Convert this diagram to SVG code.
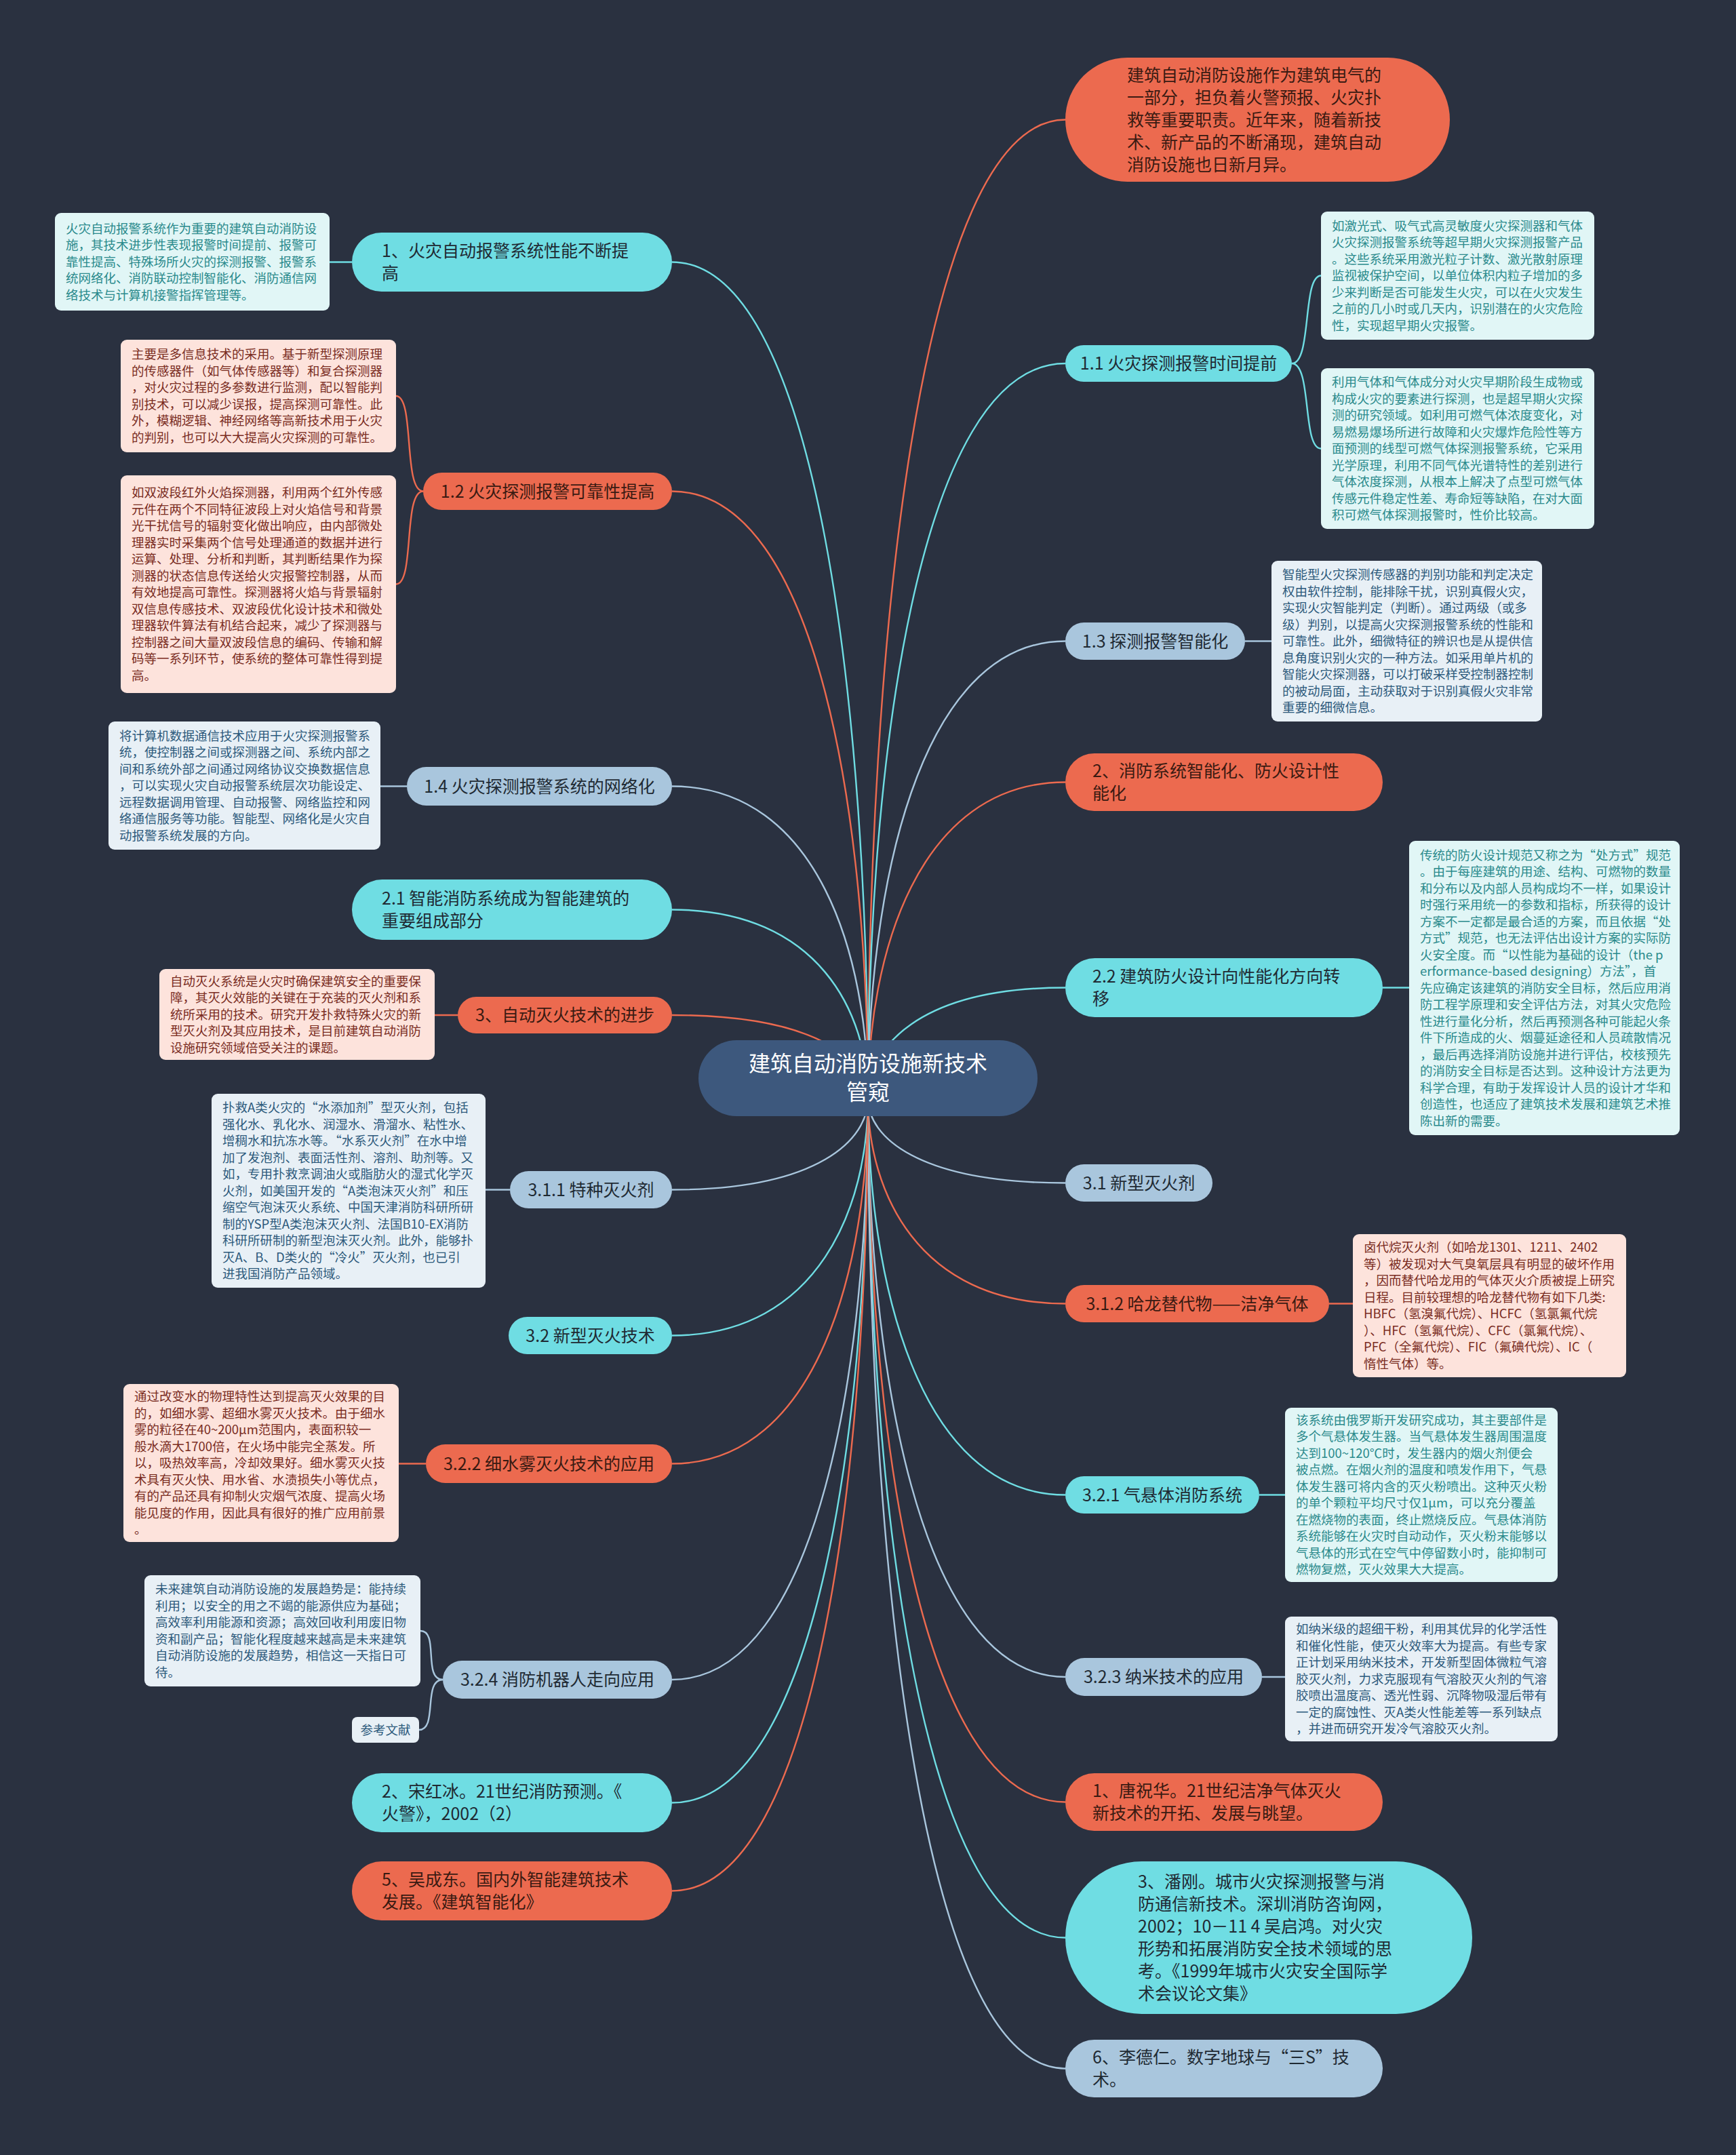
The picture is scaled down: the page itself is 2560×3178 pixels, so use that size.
<svg xmlns="http://www.w3.org/2000/svg" width="2560" height="3178" viewBox="0 0 2560 3178">
<style>
text{font-family:"Noto Sans CJK SC","Noto Sans",sans-serif}
.c{fill:none;stroke-width:2.4}
.co{stroke:#ec6a4f}.cc{stroke:#6fdde3}.cb{stroke:#a9c6dd}
.no{fill:#ec6a4f}.nc{fill:#6fdde3}.nb{fill:#a9c6dd}
.t{font-size:25px;fill:#1f2a33}
.to{font-size:25px;fill:#3a1a12}
.pc{fill:#e1f6f6}.pp{fill:#fde3dc}.pb{fill:#e8f0f6}
.tc{font-size:18.5px;fill:#2a8a8c}.tp{font-size:18.5px;fill:#7a2c1f}.tb{font-size:18.5px;fill:#2d5a7c}
</style>
<rect width="2560" height="3178" fill="#2a3140"/>
<g id="connectors">
<path class="c co" d="M1280 1620 C1280 970 1353 176.5 1571 176.5"/>
<path class="c cc" d="M1280 1620 C1280 1132 1353 536 1571 536"/>
<path class="c cb" d="M1280 1620 C1280 1316 1353 945.5 1571 945.5"/>
<path class="c co" d="M1280 1620 C1280 1410 1353 1153.5 1571 1153.5"/>
<path class="c cc" d="M1280 1620 C1280 1546 1353 1456.5 1571 1456.5"/>
<path class="c cb" d="M1280 1620 C1280 1676 1353 1744.5 1571 1744.5"/>
<path class="c co" d="M1280 1620 C1280 1756 1353 1922.5 1571 1922.5"/>
<path class="c cc" d="M1280 1620 C1280 1883 1353 2204.5 1571 2204.5"/>
<path class="c cb" d="M1280 1620 C1280 2004 1353 2473 1571 2473"/>
<path class="c co" d="M1280 1620 C1280 2087 1353 2657.5 1571 2657.5"/>
<path class="c cc" d="M1280 1620 C1280 2177 1353 2857.5 1571 2857.5"/>
<path class="c cb" d="M1280 1620 C1280 2264 1353 3050.5 1571 3050.5"/>
<path class="c cc" d="M1280 1620 C1280 1065 1208 386.5 991 386.5"/>
<path class="c co" d="M1280 1620 C1280 1217 1208 724.5 991 724.5"/>
<path class="c cb" d="M1280 1620 C1280 1413 1208 1159.5 991 1159.5"/>
<path class="c cc" d="M1280 1620 C1280 1495 1208 1341.5 991 1341.5"/>
<path class="c co" d="M1280 1620 C1280 1565 1208 1497 991 1497"/>
<path class="c cb" d="M1280 1620 C1280 1680 1208 1754.5 991 1754.5"/>
<path class="c cc" d="M1280 1620 C1280 1777 1208 1969.5 991 1969.5"/>
<path class="c co" d="M1280 1620 C1280 1862 1208 2158.5 991 2158.5"/>
<path class="c cb" d="M1280 1620 C1280 2006 1208 2477 991 2477"/>
<path class="c cc" d="M1280 1620 C1280 2087 1208 2658.5 991 2658.5"/>
<path class="c co" d="M1280 1620 C1280 2146 1208 2788.5 991 2788.5"/>
<path class="c cc" d="M519 386.5 L486 386.5"/>
<path class="c cc" d="M1905 536 C1935 536 1920 406.5 1948 406.5"/>
<path class="c cc" d="M1905 536 C1935 536 1920 661.5 1948 661.5"/>
<path class="c co" d="M624 724.5 C594 724.5 612 584 584 584"/>
<path class="c co" d="M624 724.5 C594 724.5 612 861.5 584 861.5"/>
<path class="c cb" d="M1836 945.5 L1875 945.5"/>
<path class="c cb" d="M600 1159.5 L561 1159.5"/>
<path class="c cc" d="M2039 1456.5 L2078 1456.5"/>
<path class="c co" d="M675 1497 L641 1497"/>
<path class="c cb" d="M752 1754.5 L716 1754.5"/>
<path class="c co" d="M1960 1922.5 L1995 1922.5"/>
<path class="c co" d="M628 2158.5 L588 2158.5"/>
<path class="c cc" d="M1857 2204.5 L1895 2204.5"/>
<path class="c cb" d="M1861 2473 L1895 2473"/>
<path class="c cb" d="M653 2477 C623 2477 648 2405 620 2405"/>
<path class="c cb" d="M653 2477 C623 2477 646 2551 618 2551"/>
</g>
<g id="root">
<rect x="1030" y="1534" width="500" height="112" rx="56" fill="#3d587d"/>
<text x="1280" y="1580" font-size="32" fill="#ffffff" text-anchor="middle"><tspan x="1280">建筑自动消防设施新技术</tspan><tspan x="1280" dy="42">管窥</tspan></text>
</g>
<g id="intro">
<rect class="no" x="1571" y="85" width="567" height="183" rx="91.5"/>
<text class="to" x="1662" y="119.5"><tspan x="1662">建筑自动消防设施作为建筑电气的</tspan><tspan x="1662" dy="33">一部分，担负着火警预报、火灾扑</tspan><tspan x="1662" dy="33">救等重要职责。近年来，随着新技</tspan><tspan x="1662" dy="33">术、新产品的不断涌现，建筑自动</tspan><tspan x="1662" dy="33">消防设施也日新月异。</tspan></text>
</g>
<g id="n1-1">
<rect class="nc" x="1571" y="509" width="334" height="54" rx="27"/>
<text class="t" x="1738" y="545" text-anchor="middle">1.1 火灾探测报警时间提前</text>
</g>
<g id="n1-3">
<rect class="nb" x="1571" y="918" width="265" height="55" rx="27.5"/>
<text class="t" x="1703.5" y="954.5" text-anchor="middle">1.3 探测报警智能化</text>
</g>
<g id="n2">
<rect class="no" x="1571" y="1111" width="468" height="85" rx="42.5"/>
<text class="to" x="1611" y="1146"><tspan x="1611">2、消防系统智能化、防火设计性</tspan><tspan x="1611" dy="33">能化</tspan></text>
</g>
<g id="n2-2">
<rect class="nc" x="1571" y="1413" width="468" height="87" rx="43.5"/>
<text class="t" x="1611" y="1449"><tspan x="1611">2.2 建筑防火设计向性能化方向转</tspan><tspan x="1611" dy="33">移</tspan></text>
</g>
<g id="n3-1">
<rect class="nb" x="1571" y="1717" width="217" height="55" rx="27.5"/>
<text class="t" x="1679.5" y="1753.5" text-anchor="middle">3.1 新型灭火剂</text>
</g>
<g id="n3-1-2">
<rect class="no" x="1571" y="1895" width="389" height="55" rx="27.5"/>
<text class="to" x="1765.5" y="1931.5" text-anchor="middle">3.1.2 哈龙替代物——洁净气体</text>
</g>
<g id="n3-2-1">
<rect class="nc" x="1571" y="2177" width="286" height="55" rx="27.5"/>
<text class="t" x="1714" y="2213.5" text-anchor="middle">3.2.1 气悬体消防系统</text>
</g>
<g id="n3-2-3">
<rect class="nb" x="1571" y="2445" width="290" height="56" rx="28"/>
<text class="t" x="1716" y="2482" text-anchor="middle">3.2.3 纳米技术的应用</text>
</g>
<g id="ref1">
<rect class="no" x="1571" y="2615" width="468" height="85" rx="42.5"/>
<text class="to" x="1611" y="2650"><tspan x="1611">1、唐祝华。21世纪洁净气体灭火</tspan><tspan x="1611" dy="33">新技术的开拓、发展与眺望。</tspan></text>
</g>
<g id="ref3">
<rect class="nc" x="1571" y="2745" width="600" height="225" rx="112.5"/>
<text class="t" x="1678" y="2784"><tspan x="1678">3、潘刚。城市火灾探测报警与消</tspan><tspan x="1678" dy="33">防通信新技术。深圳消防咨询网，</tspan><tspan x="1678" dy="33">2002；10－11 4 吴启鸿。对火灾</tspan><tspan x="1678" dy="33">形势和拓展消防安全技术领域的思</tspan><tspan x="1678" dy="33">考。《1999年城市火灾安全国际学</tspan><tspan x="1678" dy="33">术会议论文集》</tspan></text>
</g>
<g id="ref6">
<rect class="nb" x="1571" y="3008" width="468" height="85" rx="42.5"/>
<text class="t" x="1611" y="3043"><tspan x="1611">6、李德仁。数字地球与“三S”技</tspan><tspan x="1611" dy="33">术。</tspan></text>
</g>
<g id="n1">
<rect class="nc" x="519" y="343" width="472" height="87" rx="43.5"/>
<text class="t" x="563" y="379"><tspan x="563">1、火灾自动报警系统性能不断提</tspan><tspan x="563" dy="33">高</tspan></text>
</g>
<g id="n1-2">
<rect class="no" x="624" y="697" width="367" height="55" rx="27.5"/>
<text class="to" x="807.5" y="733.5" text-anchor="middle">1.2 火灾探测报警可靠性提高</text>
</g>
<g id="n1-4">
<rect class="nb" x="600" y="1131" width="391" height="57" rx="28.5"/>
<text class="t" x="795.5" y="1168.5" text-anchor="middle">1.4 火灾探测报警系统的网络化</text>
</g>
<g id="n2-1">
<rect class="nc" x="519" y="1297" width="472" height="89" rx="44.5"/>
<text class="t" x="563" y="1334"><tspan x="563">2.1 智能消防系统成为智能建筑的</tspan><tspan x="563" dy="33">重要组成部分</tspan></text>
</g>
<g id="n3">
<rect class="no" x="675" y="1470" width="316" height="54" rx="27"/>
<text class="to" x="833" y="1506" text-anchor="middle">3、自动灭火技术的进步</text>
</g>
<g id="n3-1-1">
<rect class="nb" x="752" y="1727" width="239" height="55" rx="27.5"/>
<text class="t" x="871.5" y="1763.5" text-anchor="middle">3.1.1 特种灭火剂</text>
</g>
<g id="n3-2">
<rect class="nc" x="750" y="1942" width="241" height="55" rx="27.5"/>
<text class="t" x="870.5" y="1978.5" text-anchor="middle">3.2 新型灭火技术</text>
</g>
<g id="n3-2-2">
<rect class="no" x="628" y="2130" width="363" height="57" rx="28.5"/>
<text class="to" x="809.5" y="2167.5" text-anchor="middle">3.2.2 细水雾灭火技术的应用</text>
</g>
<g id="n3-2-4">
<rect class="nb" x="653" y="2449" width="338" height="56" rx="28"/>
<text class="t" x="822" y="2486" text-anchor="middle">3.2.4 消防机器人走向应用</text>
</g>
<g id="ref2">
<rect class="nc" x="519" y="2615" width="472" height="87" rx="43.5"/>
<text class="t" x="563" y="2651"><tspan x="563">2、宋红冰。21世纪消防预测。《</tspan><tspan x="563" dy="33">火警》，2002（2）</tspan></text>
</g>
<g id="ref5">
<rect class="no" x="519" y="2745" width="472" height="87" rx="43.5"/>
<text class="to" x="563" y="2781"><tspan x="563">5、吴成东。国内外智能建筑技术</tspan><tspan x="563" dy="33">发展。《建筑智能化》</tspan></text>
</g>
<g id="note-1">
<rect class="pc" x="81" y="314" width="405" height="144" rx="9"/>
<text class="tc" x="97" y="343.5"><tspan x="97">火灾自动报警系统作为重要的建筑自动消防设</tspan><tspan x="97" dy="24.5">施，其技术进步性表现报警时间提前、报警可</tspan><tspan x="97" dy="24.5">靠性提高、特殊场所火灾的探测报警、报警系</tspan><tspan x="97" dy="24.5">统网络化、消防联动控制智能化、消防通信网</tspan><tspan x="97" dy="24.5">络技术与计算机接警指挥管理等。</tspan></text>
</g>
<g id="note-1-1a">
<rect class="pc" x="1948" y="312" width="403" height="189" rx="9"/>
<text class="tc" x="1964" y="339.5"><tspan x="1964">如激光式、吸气式高灵敏度火灾探测器和气体</tspan><tspan x="1964" dy="24.5">火灾探测报警系统等超早期火灾探测报警产品</tspan><tspan x="1964" dy="24.5">。这些系统采用激光粒子计数、激光散射原理</tspan><tspan x="1964" dy="24.5">监视被保护空间，以单位体积内粒子增加的多</tspan><tspan x="1964" dy="24.5">少来判断是否可能发生火灾，可以在火灾发生</tspan><tspan x="1964" dy="24.5">之前的几小时或几天内，识别潜在的火灾危险</tspan><tspan x="1964" dy="24.5">性，实现超早期火灾报警。</tspan></text>
</g>
<g id="note-1-1b">
<rect class="pc" x="1948" y="543" width="403" height="237" rx="9"/>
<text class="tc" x="1964" y="570"><tspan x="1964">利用气体和气体成分对火灾早期阶段生成物或</tspan><tspan x="1964" dy="24.5">构成火灾的要素进行探测，也是超早期火灾探</tspan><tspan x="1964" dy="24.5">测的研究领域。如利用可燃气体浓度变化，对</tspan><tspan x="1964" dy="24.5">易燃易爆场所进行故障和火灾爆炸危险性等方</tspan><tspan x="1964" dy="24.5">面预测的线型可燃气体探测报警系统，它采用</tspan><tspan x="1964" dy="24.5">光学原理，利用不同气体光谱特性的差别进行</tspan><tspan x="1964" dy="24.5">气体浓度探测，从根本上解决了点型可燃气体</tspan><tspan x="1964" dy="24.5">传感元件稳定性差、寿命短等缺陷，在对大面</tspan><tspan x="1964" dy="24.5">积可燃气体探测报警时，性价比较高。</tspan></text>
</g>
<g id="note-1-2a">
<rect class="pp" x="178" y="501" width="406" height="166" rx="9"/>
<text class="tp" x="194" y="529.25"><tspan x="194">主要是多信息技术的采用。基于新型探测原理</tspan><tspan x="194" dy="24.5">的传感器件（如气体传感器等）和复合探测器</tspan><tspan x="194" dy="24.5">，对火灾过程的多参数进行监测，配以智能判</tspan><tspan x="194" dy="24.5">别技术，可以减少误报，提高探测可靠性。此</tspan><tspan x="194" dy="24.5">外，模糊逻辑、神经网络等高新技术用于火灾</tspan><tspan x="194" dy="24.5">的判别，也可以大大提高火灾探测的可靠性。</tspan></text>
</g>
<g id="note-1-2b">
<rect class="pp" x="178" y="701" width="406" height="321" rx="9"/>
<text class="tp" x="194" y="733.25"><tspan x="194">如双波段红外火焰探测器，利用两个红外传感</tspan><tspan x="194" dy="24.5">元件在两个不同特征波段上对火焰信号和背景</tspan><tspan x="194" dy="24.5">光干扰信号的辐射变化做出响应，由内部微处</tspan><tspan x="194" dy="24.5">理器实时采集两个信号处理通道的数据并进行</tspan><tspan x="194" dy="24.5">运算、处理、分析和判断，其判断结果作为探</tspan><tspan x="194" dy="24.5">测器的状态信息传送给火灾报警控制器，从而</tspan><tspan x="194" dy="24.5">有效地提高可靠性。探测器将火焰与背景辐射</tspan><tspan x="194" dy="24.5">双信息传感技术、双波段优化设计技术和微处</tspan><tspan x="194" dy="24.5">理器软件算法有机结合起来，减少了探测器与</tspan><tspan x="194" dy="24.5">控制器之间大量双波段信息的编码、传输和解</tspan><tspan x="194" dy="24.5">码等一系列环节，使系统的整体可靠性得到提</tspan><tspan x="194" dy="24.5">高。</tspan></text>
</g>
<g id="note-1-3">
<rect class="pb" x="1875" y="827" width="399" height="237" rx="9"/>
<text class="tb" x="1891" y="854"><tspan x="1891">智能型火灾探测传感器的判别功能和判定决定</tspan><tspan x="1891" dy="24.5">权由软件控制，能排除干扰，识别真假火灾，</tspan><tspan x="1891" dy="24.5">实现火灾智能判定（判断）。通过两级（或多</tspan><tspan x="1891" dy="24.5">级）判别，以提高火灾探测报警系统的性能和</tspan><tspan x="1891" dy="24.5">可靠性。此外，细微特征的辨识也是从提供信</tspan><tspan x="1891" dy="24.5">息角度识别火灾的一种方法。如采用单片机的</tspan><tspan x="1891" dy="24.5">智能火灾探测器，可以打破采样受控制器控制</tspan><tspan x="1891" dy="24.5">的被动局面，主动获取对于识别真假火灾非常</tspan><tspan x="1891" dy="24.5">重要的细微信息。</tspan></text>
</g>
<g id="note-1-4">
<rect class="pb" x="160" y="1064" width="401" height="189" rx="9"/>
<text class="tb" x="176" y="1091.5"><tspan x="176">将计算机数据通信技术应用于火灾探测报警系</tspan><tspan x="176" dy="24.5">统，使控制器之间或探测器之间、系统内部之</tspan><tspan x="176" dy="24.5">间和系统外部之间通过网络协议交换数据信息</tspan><tspan x="176" dy="24.5">，可以实现火灾自动报警系统层次功能设定、</tspan><tspan x="176" dy="24.5">远程数据调用管理、自动报警、网络监控和网</tspan><tspan x="176" dy="24.5">络通信服务等功能。智能型、网络化是火灾自</tspan><tspan x="176" dy="24.5">动报警系统发展的方向。</tspan></text>
</g>
<g id="note-2-2">
<rect class="pc" x="2078" y="1240" width="399" height="434" rx="9"/>
<text class="tc" x="2094" y="1267.5"><tspan x="2094">传统的防火设计规范又称之为“处方式”规范</tspan><tspan x="2094" dy="24.5">。由于每座建筑的用途、结构、可燃物的数量</tspan><tspan x="2094" dy="24.5">和分布以及内部人员构成均不一样，如果设计</tspan><tspan x="2094" dy="24.5">时强行采用统一的参数和指标，所获得的设计</tspan><tspan x="2094" dy="24.5">方案不一定都是最合适的方案，而且依据“处</tspan><tspan x="2094" dy="24.5">方式”规范，也无法评估出设计方案的实际防</tspan><tspan x="2094" dy="24.5">火安全度。而“以性能为基础的设计（the p</tspan><tspan x="2094" dy="24.5">erformance-based designing）方法”，首</tspan><tspan x="2094" dy="24.5">先应确定该建筑的消防安全目标，然后应用消</tspan><tspan x="2094" dy="24.5">防工程学原理和安全评估方法，对其火灾危险</tspan><tspan x="2094" dy="24.5">性进行量化分析，然后再预测各种可能起火条</tspan><tspan x="2094" dy="24.5">件下所造成的火、烟蔓延途径和人员疏散情况</tspan><tspan x="2094" dy="24.5">，最后再选择消防设施并进行评估，校核预先</tspan><tspan x="2094" dy="24.5">的消防安全目标是否达到。这种设计方法更为</tspan><tspan x="2094" dy="24.5">科学合理，有助于发挥设计人员的设计才华和</tspan><tspan x="2094" dy="24.5">创造性，也适应了建筑技术发展和建筑艺术推</tspan><tspan x="2094" dy="24.5">陈出新的需要。</tspan></text>
</g>
<g id="note-3">
<rect class="pp" x="235" y="1429" width="406" height="134" rx="9"/>
<text class="tp" x="251" y="1453.5"><tspan x="251">自动灭火系统是火灾时确保建筑安全的重要保</tspan><tspan x="251" dy="24.5">障，其灭火效能的关键在于充装的灭火剂和系</tspan><tspan x="251" dy="24.5">统所采用的技术。研究开发扑救特殊火灾的新</tspan><tspan x="251" dy="24.5">型灭火剂及其应用技术，是目前建筑自动消防</tspan><tspan x="251" dy="24.5">设施研究领域倍受关注的课题。</tspan></text>
</g>
<g id="note-3-1-1">
<rect class="pb" x="312" y="1613" width="404" height="286" rx="9"/>
<text class="tb" x="328" y="1640"><tspan x="328">扑救A类火灾的“水添加剂”型灭火剂，包括</tspan><tspan x="328" dy="24.5">强化水、乳化水、润湿水、滑溜水、粘性水、</tspan><tspan x="328" dy="24.5">增稠水和抗冻水等。“水系灭火剂”在水中增</tspan><tspan x="328" dy="24.5">加了发泡剂、表面活性剂、溶剂、助剂等。又</tspan><tspan x="328" dy="24.5">如，专用扑救烹调油火或脂肪火的湿式化学灭</tspan><tspan x="328" dy="24.5">火剂，如美国开发的“A类泡沫灭火剂”和压</tspan><tspan x="328" dy="24.5">缩空气泡沫灭火系统、中国天津消防科研所研</tspan><tspan x="328" dy="24.5">制的YSP型A类泡沫灭火剂、法国B10-EX消防</tspan><tspan x="328" dy="24.5">科研所研制的新型泡沫灭火剂。此外，能够扑</tspan><tspan x="328" dy="24.5">灭A、B、D类火的“冷火”灭火剂，也已引</tspan><tspan x="328" dy="24.5">进我国消防产品领域。</tspan></text>
</g>
<g id="note-3-1-2">
<rect class="pp" x="1995" y="1820" width="403" height="211" rx="9"/>
<text class="tp" x="2011" y="1846.25"><tspan x="2011">卤代烷灭火剂（如哈龙1301、1211、2402</tspan><tspan x="2011" dy="24.5">等）被发现对大气臭氧层具有明显的破坏作用</tspan><tspan x="2011" dy="24.5">，因而替代哈龙用的气体灭火介质被提上研究</tspan><tspan x="2011" dy="24.5">日程。目前较理想的哈龙替代物有如下几类:</tspan><tspan x="2011" dy="24.5">HBFC（氢溴氟代烷）、HCFC（氢氯氟代烷</tspan><tspan x="2011" dy="24.5">）、HFC（氢氟代烷）、CFC（氯氟代烷）、</tspan><tspan x="2011" dy="24.5">PFC（全氟代烷）、FIC（氟碘代烷）、IC（</tspan><tspan x="2011" dy="24.5">惰性气体）等。</tspan></text>
</g>
<g id="note-3-2-2">
<rect class="pp" x="182" y="2041" width="406" height="233" rx="9"/>
<text class="tp" x="198" y="2066"><tspan x="198">通过改变水的物理特性达到提高灭火效果的目</tspan><tspan x="198" dy="24.5">的，如细水雾、超细水雾灭火技术。由于细水</tspan><tspan x="198" dy="24.5">雾的粒径在40~200μm范围内，表面积较一</tspan><tspan x="198" dy="24.5">般水滴大1700倍，在火场中能完全蒸发。所</tspan><tspan x="198" dy="24.5">以，吸热效率高，冷却效果好。细水雾灭火技</tspan><tspan x="198" dy="24.5">术具有灭火快、用水省、水渍损失小等优点，</tspan><tspan x="198" dy="24.5">有的产品还具有抑制火灾烟气浓度、提高火场</tspan><tspan x="198" dy="24.5">能见度的作用，因此具有很好的推广应用前景</tspan><tspan x="198" dy="24.5">。</tspan></text>
</g>
<g id="note-3-2-1">
<rect class="pc" x="1895" y="2076" width="402" height="257" rx="9"/>
<text class="tc" x="1911" y="2100.75"><tspan x="1911">该系统由俄罗斯开发研究成功，其主要部件是</tspan><tspan x="1911" dy="24.5">多个气悬体发生器。当气悬体发生器周围温度</tspan><tspan x="1911" dy="24.5">达到100~120℃时，发生器内的烟火剂便会</tspan><tspan x="1911" dy="24.5">被点燃。在烟火剂的温度和喷发作用下，气悬</tspan><tspan x="1911" dy="24.5">体发生器可将内含的灭火粉喷出。这种灭火粉</tspan><tspan x="1911" dy="24.5">的单个颗粒平均尺寸仅1μm，可以充分覆盖</tspan><tspan x="1911" dy="24.5">在燃烧物的表面，终止燃烧反应。气悬体消防</tspan><tspan x="1911" dy="24.5">系统能够在火灾时自动动作，灭火粉末能够以</tspan><tspan x="1911" dy="24.5">气悬体的形式在空气中停留数小时，能抑制可</tspan><tspan x="1911" dy="24.5">燃物复燃，灭火效果大大提高。</tspan></text>
</g>
<g id="note-3-2-3">
<rect class="pb" x="1895" y="2384" width="402" height="184" rx="9"/>
<text class="tb" x="1911" y="2409"><tspan x="1911">如纳米级的超细干粉，利用其优异的化学活性</tspan><tspan x="1911" dy="24.5">和催化性能，使灭火效率大为提高。有些专家</tspan><tspan x="1911" dy="24.5">正计划采用纳米技术，开发新型固体微粒气溶</tspan><tspan x="1911" dy="24.5">胶灭火剂，力求克服现有气溶胶灭火剂的气溶</tspan><tspan x="1911" dy="24.5">胶喷出温度高、透光性弱、沉降物吸湿后带有</tspan><tspan x="1911" dy="24.5">一定的腐蚀性、灭A类火性能差等一系列缺点</tspan><tspan x="1911" dy="24.5">，并进而研究开发冷气溶胶灭火剂。</tspan></text>
</g>
<g id="note-3-2-4">
<rect class="pb" x="213" y="2323" width="407" height="164" rx="9"/>
<text class="tb" x="229" y="2350.25"><tspan x="229">未来建筑自动消防设施的发展趋势是：能持续</tspan><tspan x="229" dy="24.5">利用；以安全的用之不竭的能源供应为基础；</tspan><tspan x="229" dy="24.5">高效率利用能源和资源；高效回收利用废旧物</tspan><tspan x="229" dy="24.5">资和副产品；智能化程度越来越高是未来建筑</tspan><tspan x="229" dy="24.5">自动消防设施的发展趋势，相信这一天指日可</tspan><tspan x="229" dy="24.5">待。</tspan></text>
</g>
<g id="note-ref">
<rect class="pb" x="519" y="2532" width="99" height="38" rx="8"/>
<text class="tb" x="568.5" y="2557.5" text-anchor="middle">参考文献</text>
</g>
</svg>
